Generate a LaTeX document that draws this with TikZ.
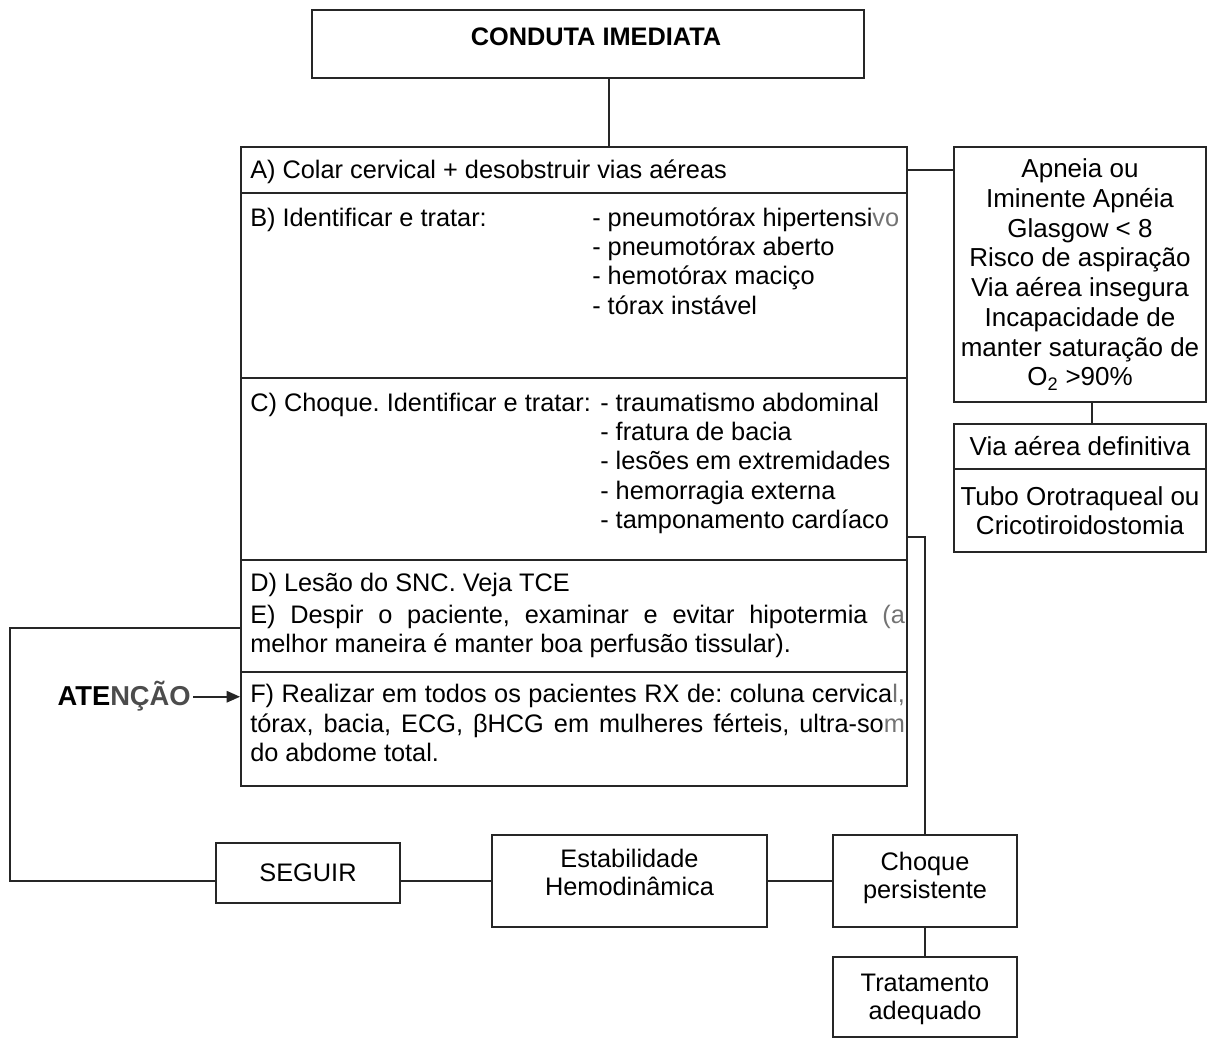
\documentclass[tikz,border=0pt]{standalone}
\usepackage{fontspec}
\setmainfont{Liberation Sans}
\usetikzlibrary{arrows.meta}
\frenchspacing
\begin{document}
\begin{tikzpicture}[x=0.75pt,y=-0.75pt,
  every node/.style={inner sep=0pt, font=\fontsize{19}{22.1}\selectfont},
  bx/.style 2 args={draw=black!85, line width=1.4pt,
    minimum width=#1*0.75pt, minimum height=#2*0.75pt, align=center},
  ln/.style={draw=black!85, line width=1.4pt},
  % multi-line text is anchored at the baseline of its last line
  txt/.style={anchor=base west, align=left},
  twoline/.style={font=\fontsize{19}{21}\selectfont},
]
\useasboundingbox (0,0) rectangle (1210,1039);

% title
\node[bx={552}{68}] (tbox) at (588,44) {};
\node[anchor=base, font=\fontsize{19}{22}\selectfont\bfseries] (ttl) at (596,45.5) {CONDUTA IMEDIATA};

% main checklist, one box per row
\node[bx={666}{46}]  (rowA)  at (574,170)   {};
\node[bx={666}{185}] (rowB)  at (574,285.5) {};
\node[bx={666}{182}] (rowC)  at (574,469)   {};
\node[bx={666}{112}] (rowDE) at (574,616)   {};
\node[bx={666}{114}] (rowF)  at (574,729)   {};

\node[txt] (tA) at (250,178) {A) Colar cervical + desobstruir vias aéreas};
\node[txt] (tB) at (250,226) {B) Identificar e tratar:};
\node[txt] (lB) at (592,314.4) {- pneumotórax hipertensi\textcolor{black!55}{vo}\\- pneumotórax aberto\\- hemotórax maciço\\- tórax instável};
\node[txt] (tC) at (250,411) {C) Choque. Identificar e tratar:};
\node[txt] (lC) at (600,528.9) {- traumatismo abdominal\\- fratura de bacia\\- lesões em extremidades\\- hemorragia externa\\- tamponamento cardíaco};
\node[txt] (tD) at (250,591) {D) Lesão do SNC. Veja TCE};
\node[txt] (tE) at (250,652.5) {\makebox[491pt][s]{E) Despir o paciente, examinar e evitar hipotermia \textcolor{black!55}{(a}}\\melhor maneira é manter boa perfusão tissular).};
\node[txt] (tF) at (250,761.9) {\makebox[491pt][s]{F) Realizar em todos os pacientes RX de: coluna cervica\textcolor{black!55}{l,}}\\\makebox[491pt][s]{tórax, bacia, ECG, βHCG em mulheres férteis, ultra-so\textcolor{black!55}{m}}\\do abdome total.};

% attention marker
\node[anchor=base east, font=\fontsize{20.5}{22}\selectfont\bfseries] (aten) at (191,705) {ATE\textcolor{black!70}{NÇÃO}};
\coordinate (atip) at ([yshift=6.2pt]aten.base east);
\draw[ln, -{Triangle[length=10pt,width=8.5pt]}] ([xshift=1.5pt]atip) -- (atip -| rowF.west);

% airway branch
\node[bx={252}{255}, font=\fontsize{19.5}{22.3}\selectfont] (apn) at (1080,274.5)
  {Apneia ou\\Iminente Apnéia\\Glasgow < 8\\Risco de aspiração\\Via aérea insegura\\Incapacidade de\\manter saturação de\\O\textsubscript{2} >90\%};
\node[bx={252}{45}, font=\fontsize{19.5}{22}\selectfont] (viaT) at (1080,446.5) {Via aérea definitiva};
\node[bx={252}{83}, font=\fontsize{19.5}{21.5}\selectfont] (viaB) at (1080,510.5) {Tubo Orotraqueal ou\\Cricotiroidostomia};

% bottom sequence
\node[bx={184}{60}] (seg) at (308,873) {SEGUIR};
\node[bx={275}{92}, twoline, text depth=13pt] (est) at (629.5,881) {Estabilidade\\Hemodinâmica};
\node[bx={184}{92}, twoline, text depth=8pt] (chq) at (925,881) {Choque\\persistente};
\node[bx={184}{80}, twoline, text depth=0pt] (trt) at (925,997) {Tratamento\\adequado};

% connectors
\coordinate (t1) at ([xshift=15.75pt]tbox.south);
\draw[ln] (t1) -- (t1 |- rowA.north);
\draw[ln] (rowA.east) -- (rowA.east -| apn.west);
\coordinate (a1) at ([xshift=9pt]apn.south);
\draw[ln] (a1) -- (a1 |- viaT.north);
\coordinate (c1) at ([yshift=-51pt]rowC.east);
\draw[ln] (c1) -| (chq.north);
\coordinate (d1) at ([yshift=-9pt]rowDE.west);
\coordinate (loop) at (10,881);
\draw[ln] (d1) -| (loop) -- (loop -| seg.west);
\draw[ln] (seg.east |- est.west) -- (est.west);
\draw[ln] (est.east) -- (chq.west);
\draw[ln] (chq.south) -- (trt.north);
\end{tikzpicture}
\end{document}
